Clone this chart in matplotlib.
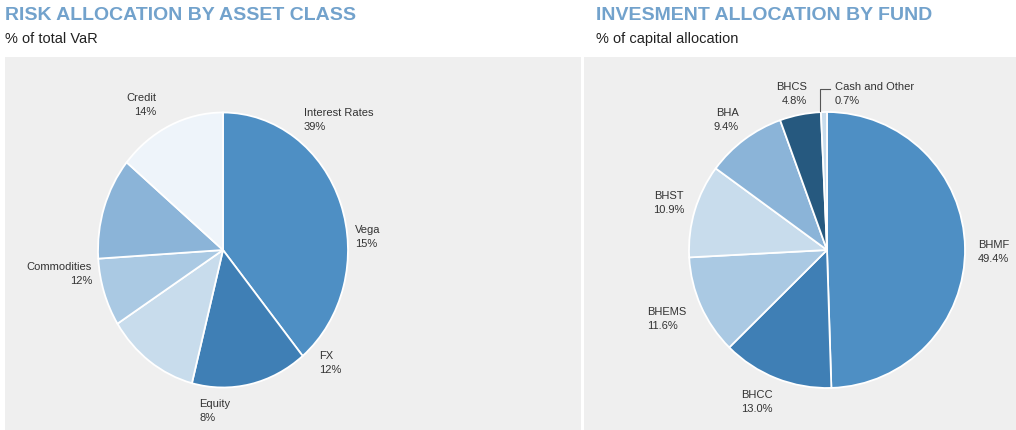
import matplotlib.pyplot as plt
from matplotlib.patches import Rectangle
from matplotlib.lines import Line2D

# Risk allocation (clockwise from 12 o'clock)
risk_labels = ["Interest Rates", "Vega", "FX", "Equity", "Commodities", "Credit"]
risk_values = [39, 15, 12, 8, 12, 14]

# Investment allocation by fund (clockwise from 12 o'clock)
fund_labels = ["BHMF", "BHCC", "BHEMS", "BHST", "BHA", "BHCS", "Cash and Other"]
fund_values = [49.4, 13.0, 11.6, 10.9, 9.4, 4.8, 0.7]

risk_colors = ["#4E8FC4", "#3F7FB5", "#C8DCEC", "#AAC9E3", "#8BB4D8", "#EEF4FA"]
fund_colors = ["#4E8FC4", "#3F7FB5", "#AAC9E3", "#C8DCEC", "#8BB4D8", "#26597F", "#C8DCEC"]

# label anchor positions in pixels (x, y from top, alignment)
risk_label_pos = [(304, 120, "left"), (355, 237, "left"), (319, 363, "left"),
                  (199, 411, "left"), (92, 274, "right"), (156, 105, "right")]
fund_label_pos = [(978, 252, "left"), (773, 402, "right"), (647, 319, "left"),
                  (684, 203, "right"), (739, 120, "right"), (807, 94, "right"),
                  (835, 94, "left")]

W, H = 1016, 430
font = ["Liberation Sans", "DejaVu Sans"]
fig = plt.figure(figsize=(W / 100, H / 100), dpi=100)
fig.patch.set_facecolor("white")


def fx(x):
    return x / W


def fy(y):
    return 1 - y / H


# grey panels
fig.patches.append(Rectangle((fx(5), 0), fx(581) - fx(5), fy(57), transform=fig.transFigure,
                             facecolor="#EFEFEF", edgecolor="none", zorder=-5))
fig.patches.append(Rectangle((fx(584), 0), 1 - fx(584), fy(57), transform=fig.transFigure,
                             facecolor="#EFEFEF", edgecolor="none", zorder=-5))

# titles
title_color = "#72A2CC"
fig.text(fx(5), fy(20), "RISK ALLOCATION BY ASSET CLASS", family=font, weight="bold",
         fontsize=14, color=title_color, va="baseline")
fig.text(fx(5), fy(43), "% of total VaR", family=font, fontsize=10.5, color="#222222",
         va="baseline")
fig.text(fx(596), fy(20), "INVESMENT ALLOCATION BY FUND", family=font, weight="bold",
         fontsize=14, color=title_color, va="baseline")
fig.text(fx(596), fy(43), "% of capital allocation", family=font, fontsize=10.5,
         color="#222222", va="baseline")

# left pie (slightly squeezed horizontally like the original)
cx, cy, rx, ry = 223, 250, 125, 137.5
ax1 = fig.add_axes([fx(cx - rx), fy(cy + ry), 2 * rx / W, 2 * ry / H])
ax1.pie(risk_values, colors=risk_colors, startangle=90, counterclock=False,
        wedgeprops=dict(edgecolor="white", linewidth=1.3))
ax1.set_aspect("auto")
ax1.set_xlim(-1, 1)
ax1.set_ylim(-1, 1)
ax1.axis("off")

# right pie
cx, cy, r = 827, 250, 138
ax2 = fig.add_axes([fx(cx - r), fy(cy + r), 2 * r / W, 2 * r / H])
ax2.pie(fund_values, colors=fund_colors, startangle=90, counterclock=False,
        wedgeprops=dict(edgecolor="white", linewidth=1.3))
ax2.set_aspect("auto")
ax2.set_xlim(-1, 1)
ax2.set_ylim(-1, 1)
ax2.axis("off")

# labels
for name, val, (x, y, ha) in zip(risk_labels, risk_values, risk_label_pos):
    fig.text(fx(x), fy(y), f"{name}\n{val}%", family=font, fontsize=8, color="#333333",
             ha=ha, va="center", multialignment=ha, linespacing=1.6)
for name, val, (x, y, ha) in zip(fund_labels, fund_values, fund_label_pos):
    fig.text(fx(x), fy(y), f"{name}\n{val:.1f}%", family=font, fontsize=8,
             color="#333333", ha=ha, va="center", multialignment=ha, linespacing=1.6)

# leader line for the small "Cash and Other" slice
fig.add_artist(Line2D([fx(820), fx(820), fx(830)], [fy(111), fy(89), fy(89)],
                      transform=fig.transFigure, color="#555555", linewidth=0.8))

fig.savefig("out.png", dpi=100)
